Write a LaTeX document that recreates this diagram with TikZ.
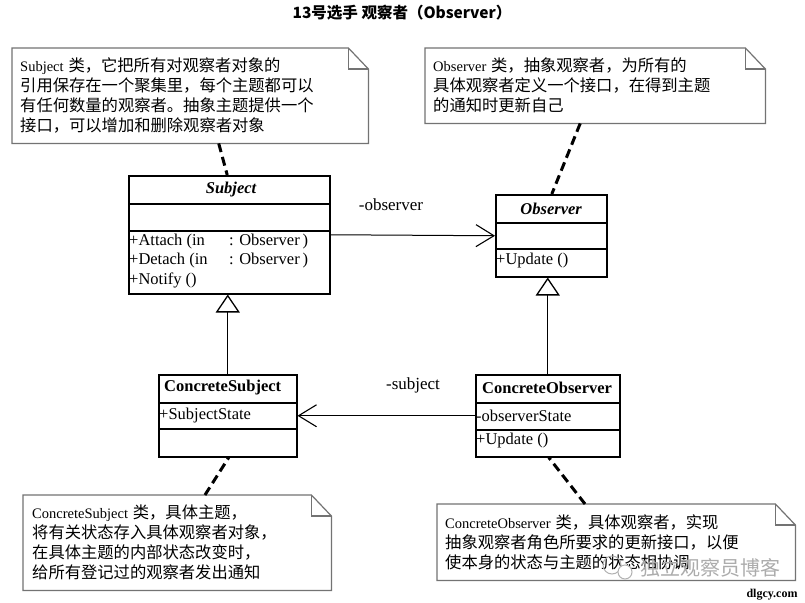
\documentclass[tikz,border=0pt]{standalone}
\usepackage{fontspec}
\setmainfont{Liberation Serif}
\newfontfamily\cjk{Noto Sans CJK SC}
\usetikzlibrary{arrows.meta,calc}
\newcommand\zh[1]{{\cjk\fontsize{16.3}{20}\selectfont #1}}
\newcommand\notefold[1]{%
  \draw[noteline] (#1.north west) -- ($(#1.north east)+(-20,0)$) -- ($(#1.north east)+(0,21)$) -- (#1.south east) -- (#1.south west) -- cycle;
  \draw[noteline] ($(#1.north east)+(-20,0)$) -- ($(#1.north east)+(-20,21)$) -- ($(#1.north east)+(0,21)$);}
\tikzset{
  classbox/.style={draw=black, line width=1.5pt, inner sep=0pt, anchor=north west},
  sepline/.style={line width=1.3pt},
  member/.style={anchor=west, inner sep=0pt, font=\fontsize{16.5}{18}\selectfont},
  header/.style={inner sep=0pt, font=\bfseries\fontsize{16.5}{18}\selectfont},
  notebox/.style={inner xsep=8pt, inner ysep=0pt, align=left, anchor=north west, font=\fontsize{14.5}{20}\selectfont},
  noteline/.style={draw=black!55, line width=1.2pt, line join=miter},
  dashline/.style={line width=3pt, dash pattern=on 9pt off 5pt},
  assoc/.style={line width=1pt, -{Straight Barb[length=18pt,width=22pt,line width=1.1pt]}},
  inherit/.style={line width=1pt, -{Triangle[open,length=18pt,width=24pt,line width=1.3pt,fill=white]}},
  lbl/.style={inner sep=0pt, font=\fontsize{17}{18}\selectfont}
}
\begin{document}
\begin{tikzpicture}[x=1pt,y=-1pt]
\useasboundingbox[fill=white] (0,0) rectangle (805,602);

% title
\node (title) at (402,13) {\cjk\bfseries\fontsize{15.5}{18}\selectfont 13号选手 观察者（Observer）};

% classes
\node[classbox, minimum width=201pt, minimum height=118pt] (s) at (128,175) {};
\draw[sepline] ($(s.north west)+(0,29)$) -- ($(s.north east)+(0,29)$);
\draw[sepline] ($(s.north west)+(0,56)$) -- ($(s.north east)+(0,56)$);
\node[header] (sname) at ($(s.north)+(2,14.5)$) {\textit{Subject}};
\node[member] (sop1) at (129,242) {\makebox[100pt][l]{+Attach (in}: Observer\,)};
\node[member] (sop2) at (129,261) {\makebox[100pt][l]{+Detach (in}: Observer\,)};
\node[member] (sop3) at (129,280) {+Notify ()};

\node[classbox, minimum width=111pt, minimum height=82pt] (o) at (495,194) {};
\draw[sepline] ($(o.north west)+(0,29)$) -- ($(o.north east)+(0,29)$);
\draw[sepline] ($(o.north west)+(0,55)$) -- ($(o.north east)+(0,55)$);
\node[header] (oname) at ($(o.north)+(0,14.5)$) {\textit{Observer}};
\node[member] (oop1) at (496,261) {+Update ()};

\node[classbox, minimum width=138pt, minimum height=82pt] (cs) at (158,374) {};
\draw[sepline] ($(cs.north west)+(0,29)$) -- ($(cs.north east)+(0,29)$);
\draw[sepline] ($(cs.north west)+(0,55)$) -- ($(cs.north east)+(0,55)$);
\node[header, anchor=west] (csname) at (164,388) {ConcreteSubject};
\node[member] (csat) at (159,416) {+SubjectState};

\node[classbox, minimum width=144pt, minimum height=82pt] (co) at (475,374) {};
\draw[sepline] ($(co.north west)+(0,29)$) -- ($(co.north east)+(0,29)$);
\draw[sepline] ($(co.north west)+(0,56)$) -- ($(co.north east)+(0,56)$);
\node[header, anchor=west] (coname) at (482,388) {ConcreteObserver};
\node[member] (coat) at (476,416) {-observerState};
\node[member] (coop) at (476,441) {+Update ()};

% relations
\draw[assoc] (s.east) -- (o.west);
\node[lbl] (lobs) at (391,205) {-observer};
\draw[assoc] (co.west) -- (cs.east);
\node[lbl] (lsub) at (413,385) {-subject};
\draw[inherit] (cs.north) -- (cs.north |- s.south);
\draw[inherit] (co.north) -- (co.north |- o.south);

% notes
\node[notebox, text width=340pt, minimum width=356pt, minimum height=95pt] (n1) at (12,48)
 {Subject \zh{类，它把所有对观察者对象的}\\\zh{引用保存在一个聚集里，每个主题都可以}\\\zh{有任何数量的观察者。抽象主题提供一个}\\\zh{接口，可以增加和删除观察者对象}};
\notefold{n1}
\node[notebox, text width=324pt, minimum width=340pt, minimum height=75pt] (n2) at (425,48)
 {Observer \zh{类，抽象观察者，为所有的}\\\zh{具体观察者定义一个接口，在得到主题}\\\zh{的通知时更新自己}};
\notefold{n2}
\node[notebox, text width=290pt, minimum width=308pt, minimum height=95pt, inner xsep=9pt] (n3) at (23,495)
 {ConcreteSubject \zh{类，具体主题，}\\\zh{将有关状态存入具体观察者对象，}\\\zh{在具体主题的内部状态改变时，}\\\zh{给所有登记过的观察者发出通知}};
\notefold{n3}
\node[notebox, text width=342pt, minimum width=358pt, minimum height=76pt] (n4) at (437,504)
 {ConcreteObserver \zh{类，具体观察者，实现}\\\zh{抽象观察者角色所要求的更新接口，以便}\\\zh{使本身的状态与主题的状态相协调}};
\notefold{n4}

% note connectors
\draw[dashline] ($(n1.south west)!0.58!(n1.south east)$) -- ($(s.north west)!0.49!(s.north east)$);
\draw[dashline] ($(n2.south west)!0.456!(n2.south east)$) -- ($(o.north west)!0.505!(o.north east)$);
\draw[dashline] ($(n3.north west)!0.59!(n3.north east)$) -- ($(cs.south west)!0.507!(cs.south east)$);
\draw[dashline] ($(n4.north west)!0.413!(n4.north east)$) -- ($(co.south west)!0.507!(co.south east)$);

% watermark
\draw[gray!60, line width=1pt] (612,565) circle (9pt);
\draw[gray!60, line width=1pt, fill=white] (625,572) circle (7pt);
\node[text=gray!65, inner sep=0pt] (wm) at (710,568) {\cjk\fontsize{20}{20}\selectfont 独立观察员博客};
\node[inner sep=0pt] (url) at (772,595) {\bfseries\fontsize{12}{12}\selectfont dlgcy.com};
\end{tikzpicture}
\end{document}
